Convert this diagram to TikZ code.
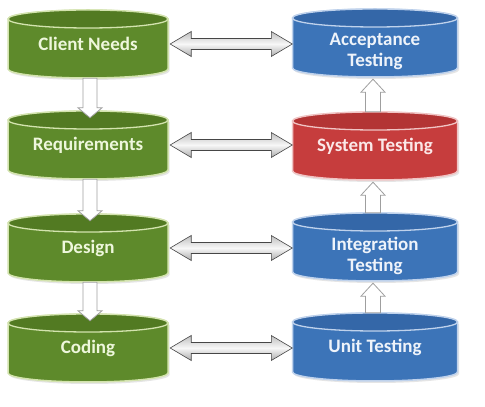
\documentclass[tikz,border=0pt]{standalone}
\usepackage{fontspec}
\setmainfont{Carlito}
\usetikzlibrary{calc}
\definecolor{gbody}{HTML}{5E8A2B}
\definecolor{gtop}{HTML}{527A22}
\definecolor{grim}{HTML}{D3E3AE}
\definecolor{gtext}{HTML}{EEF7DC}
\definecolor{bbody}{HTML}{3C74B8}
\definecolor{btop}{HTML}{3467A8}
\definecolor{brim}{HTML}{BFD2EC}
\definecolor{btext}{HTML}{EEF3FA}
\definecolor{rbody}{HTML}{C63D3D}
\definecolor{rtop}{HTML}{B33434}
\definecolor{rrim}{HTML}{F0C4C4}
\definecolor{rtext}{HTML}{FBE8E8}
\tikzset{
  harrow/.style={top color=gray!50, bottom color=gray!65, middle color=gray!6, draw=gray!55!black, line width=0.6pt, line join=miter},
  varrow/.style={fill=white, draw=gray!75, line width=0.8pt, line join=miter},
  cylshade/.style={fill=black!10},
  cyltext/.style={font=\bfseries\fontsize{19}{21}\selectfont, align=center, inner sep=0pt}
}
% #1 name, #2 cx, #3 cy, #4 width, #5 colour prefix, #6 text, #7 text shift
\newcommand\cylnode[7]{%
  \pgfmathsetmacro\hw{#4/2}%
  \fill[cylshade] (#2-\hw+1.5, #3+23) -- (#2-\hw+1.5, #3-27) arc[start angle=180,end angle=360,x radius=\hw pt,y radius=9pt] -- (#2+\hw+1.5,#3+23) -- cycle;
  \path[fill=#5body, draw=#5rim, line width=1.5pt] (#2-\hw, #3+25) -- (#2-\hw, #3-25) arc[start angle=180,end angle=360,x radius=\hw pt,y radius=9pt] -- (#2+\hw,#3+25) arc[start angle=0,end angle=180,x radius=\hw pt,y radius=9pt] -- cycle;
  \draw[fill=#5top, draw=#5rim, line width=1.3pt] (#2,#3+25) ellipse[x radius=\hw pt, y radius=9pt];
  \node[minimum width=#4pt, minimum height=68pt, inner sep=0pt] (#1) at (#2,#3) {};
  \node[cyltext, text=#5text] (#1-t) at (#2,#3+#7) {#6};
}
\begin{document}
\begin{tikzpicture}[x=1pt,y=1pt]
\useasboundingbox (0,0) rectangle (485,407);
\fill[white] (0,0) rectangle (485,407);
% left column
\cylnode{cn}{88}{363}{160}{g}{Client Needs}{0}
\cylnode{req}{88}{262}{160}{g}{Requirements}{0}
\cylnode{des}{88}{159}{160}{g}{Design}{0}
\cylnode{cod}{88}{59}{160}{g}{Coding}{0}
% right column
\cylnode{acc}{375}{364}{165}{b}{Acceptance\\Testing}{-8}
\cylnode{sys}{375}{261}{165}{r}{System Testing}{0}
\cylnode{int}{375}{160}{165}{b}{Integration\\Testing}{-9}
\cylnode{unit}{375}{60}{165}{b}{Unit Testing}{0}
% horizontal double arrows
\foreach \a/\b in {cn/acc, req/sys, des/int, cod/unit}{
  \draw[harrow] let \p1=(\a.east), \p2=(\b.west) in
    (\x1+2pt,\y1) -- (\x1+23pt,\y1+12.5pt) -- (\x1+23pt,\y1+5.5pt) -- (\x2-21pt,\y1+5.5pt) -- (\x2-21pt,\y1+12.5pt) -- (\x2,\y1)
    -- (\x2-21pt,\y1-12.5pt) -- (\x2-21pt,\y1-5.5pt) -- (\x1+23pt,\y1-5.5pt) -- (\x1+23pt,\y1-12.5pt) -- cycle;
}
% down arrows (left)
\foreach \a/\b in {cn/req, req/des, des/cod}{
  \draw[varrow] let \p1=(\a.south), \p2=(\b.north) in
    (\x1-5pt,\y1) -- (\x1-5pt,\y2+3pt) -- (\x1-10pt,\y2+3pt) -- (\x1+2pt,\y2-7pt) -- (\x1+14pt,\y2+3pt) -- (\x1+9pt,\y2+3pt) -- (\x1+9pt,\y1) -- cycle;
}
% up arrows (right)
\foreach \a/\b in {unit/int, int/sys, sys/acc}{
  \draw[varrow] let \p1=(\a.north), \p2=(\b.south) in
    (\x1-9.5pt,\y1) -- (\x1-9.5pt,\y2-15pt) -- (\x1-14pt,\y2-15pt) -- (\x1-2pt,\y2-2pt) -- (\x1+10pt,\y2-15pt) -- (\x1+5.5pt,\y2-15pt) -- (\x1+5.5pt,\y1) -- cycle;
}
\end{tikzpicture}
\end{document}
